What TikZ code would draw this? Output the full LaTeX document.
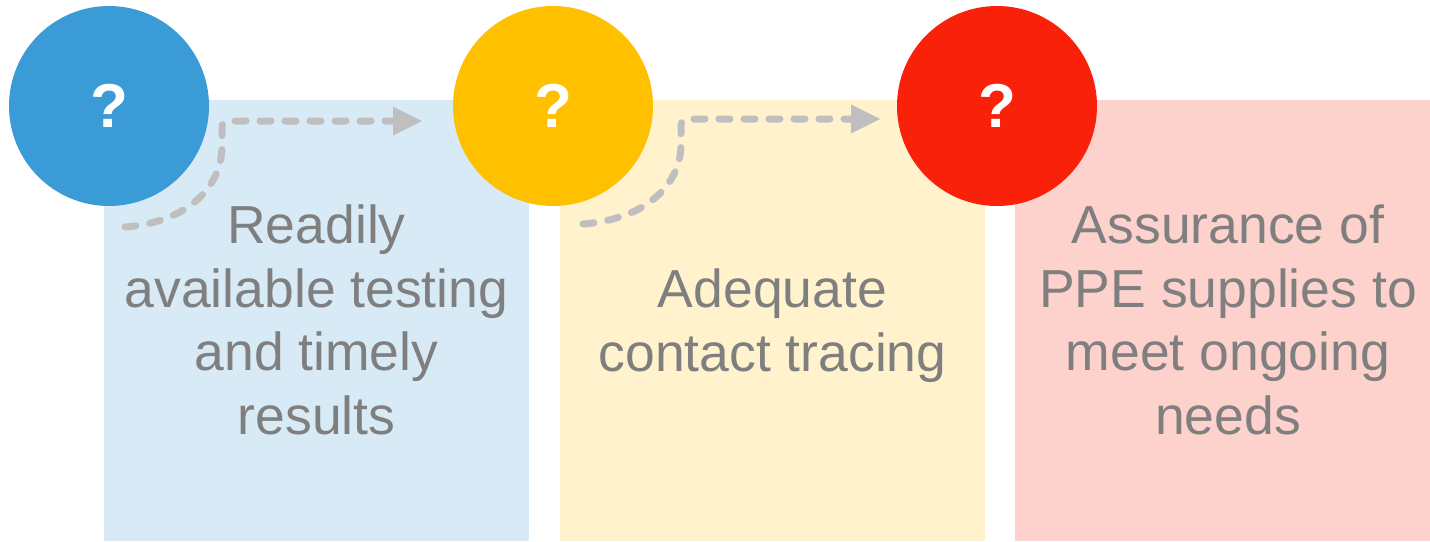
\documentclass[tikz,border=0pt]{standalone}
\usepackage{fontspec}
\setmainfont{Liberation Sans}
\usetikzlibrary{arrows.meta}
\definecolor{cblue}{HTML}{3A9BD7}
\definecolor{lblue}{HTML}{D8EAF6}
\definecolor{cyellow}{HTML}{FFC000}
\definecolor{lyellow}{HTML}{FFF2CD}
\definecolor{cred}{HTML}{FA210A}
\definecolor{lred}{HTML}{FDD1CC}
\definecolor{textgray}{HTML}{7F7F7F}
\definecolor{arrowgray}{HTML}{BFBFBF}
\begin{document}
\begin{tikzpicture}[x=1pt,y=-1pt,
  panel/.style={fill=#1, draw=none, inner sep=0pt, minimum width=425pt, minimum height=441pt},
  badge/.style={circle, fill=#1, draw=none, minimum size=200pt, inner sep=0pt, text=white,
    font=\fontsize{62}{62}\selectfont\bfseries},
  label/.style={align=center, text=textgray, font=\fontsize{53.5}{63.5}\selectfont,
    inner sep=0pt, anchor=base},
  flow/.style={draw=arrowgray, line width=7pt, line cap=round, dash pattern=on 11pt off 14pt,
    rounded corners=6pt, -{Triangle[length=29pt,width=29pt,line width=0pt]}}]
\useasboundingbox (0,0) rectangle (1430,541);
% panels
\node[panel=lblue] (p1) at (316.5,320.5) {};
\node[panel=lyellow] (p2) at (772.5,320.5) {};
\node[panel=lred, minimum width=415pt] (p3) at (1222.5,320.5) {};
% badges
\node[badge=cblue] (c1) at (109,106) {?};
\node[badge=cyellow] (c2) at (553,106) {?};
\node[badge=cred] (c3) at (997,106) {?};
% arrows
\coordinate (a1s) at (125,227);
\coordinate (a1e) at (422,121);
\coordinate (a2s) at (583,224);
\coordinate (a2e) at (880,119);
\draw[flow] (a1s) .. controls (190,222) and (222,185) .. (222,140) -- (222,121) -- (a1e);
\draw[flow] (a2s) .. controls (648,219) and (681,183) .. (681,138) -- (681,119) -- (a2e);
% labels (anchor = baseline of the last line)
\node[label] (t1) at (316.5,434) {Readily\\available testing\\and timely\\results};
\node[label] (t2) at (772.5,371) {Adequate\\contact tracing};
\node[label] (t3) at (1228,434) {Assurance of\\PPE supplies to\\meet ongoing\\needs};
\end{tikzpicture}
\end{document}
